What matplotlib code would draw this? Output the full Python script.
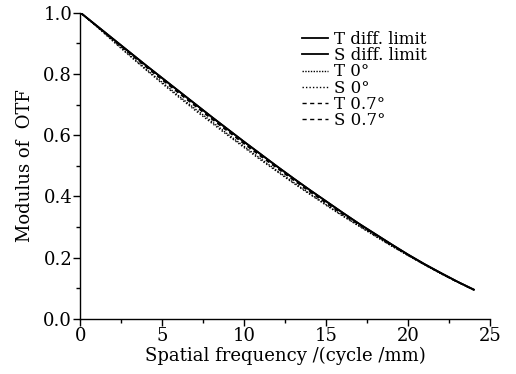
import matplotlib
matplotlib.use("Agg")
import matplotlib.pyplot as plt
from matplotlib.ticker import MultipleLocator

plt.rcParams['font.family'] = ['DejaVu Serif']
plt.rcParams['mathtext.fontset'] = 'dejavuserif'

freq = [0, 1, 2, 3, 4, 5, 6, 7, 8, 9, 10, 11, 12, 13, 14, 15, 16, 17, 18, 19, 20, 21, 22, 23, 24]
t_diff = [1.000, 0.957, 0.914, 0.871, 0.828, 0.786, 0.744, 0.702, 0.660, 0.619, 0.578,
          0.538, 0.498, 0.459, 0.421, 0.384, 0.347, 0.311, 0.277, 0.243, 0.210,
          0.179, 0.150, 0.122, 0.096]
s_diff = t_diff
t_0 = [1.000, 0.955, 0.908, 0.862, 0.816, 0.772, 0.728, 0.686, 0.645, 0.603, 0.563,
       0.523, 0.484, 0.446, 0.409, 0.373, 0.338, 0.304, 0.271, 0.238, 0.207,
       0.177, 0.148, 0.121, 0.095]
s_0 = [1.000, 0.954, 0.906, 0.859, 0.813, 0.768, 0.724, 0.681, 0.640, 0.599, 0.559,
       0.519, 0.481, 0.443, 0.407, 0.371, 0.336, 0.303, 0.270, 0.238, 0.207,
       0.177, 0.148, 0.121, 0.095]
t_07 = [1.000, 0.956, 0.912, 0.868, 0.824, 0.781, 0.739, 0.697, 0.655, 0.614, 0.573,
        0.533, 0.494, 0.455, 0.417, 0.380, 0.344, 0.309, 0.275, 0.242, 0.209,
        0.178, 0.149, 0.121, 0.095]
s_07 = [1.000, 0.956, 0.911, 0.867, 0.823, 0.780, 0.737, 0.695, 0.653, 0.612, 0.571,
        0.531, 0.492, 0.453, 0.415, 0.378, 0.342, 0.308, 0.274, 0.241, 0.209,
        0.178, 0.149, 0.121, 0.095]

labels = ['T diff. limit', 'S diff. limit', 'T 0°', 'S 0°', 'T 0.7°', 'S 0.7°']
series = [t_diff, s_diff, t_0, s_0, t_07, s_07]
styles = ['-', '-', (0, (1, 1)), (0, (1, 1.5)), (0, (3, 2.5)), (0, (3, 2.5))]
widths = [1.3, 1.3, 1.0, 1.0, 1.0, 1.0]

fig = plt.figure(figsize=(5.16, 3.74), dpi=100)
ax = fig.add_axes([0.156, 0.147, 0.794, 0.819])

for y, lab, ls, lw in zip(series, labels, styles, widths):
    ax.plot(freq, y, color='black', linestyle=ls, linewidth=lw, label=lab)

ax.set_xlim(0, 25)
ax.set_ylim(0, 1.0)
ax.xaxis.set_major_locator(MultipleLocator(5))
ax.xaxis.set_minor_locator(MultipleLocator(2.5))
ax.yaxis.set_major_locator(MultipleLocator(0.2))
ax.yaxis.set_minor_locator(MultipleLocator(0.1))
ax.set_yticklabels([f"{v:.1f}" for v in ax.get_yticks()])
ax.tick_params(which='major', direction='out', length=5, width=1, labelsize=13, pad=1)
ax.tick_params(which='minor', direction='out', length=3, width=1)
for s in ['top', 'right']:
    ax.spines[s].set_visible(False)
for s in ['left', 'bottom']:
    ax.spines[s].set_linewidth(1)

ax.set_xlabel('Spatial frequency /(cycle /mm)', fontsize=13, labelpad=1)
ax.set_ylabel('Modulus of  OTF', fontsize=13, labelpad=7)

leg = ax.legend(loc='upper left', bbox_to_anchor=(0.54, 0.94), frameon=False,
                fontsize=12, handlelength=1.6, handletextpad=0.35,
                labelspacing=-0.05, borderaxespad=0.0, borderpad=0.0)

fig.savefig('out.png', dpi=100)
